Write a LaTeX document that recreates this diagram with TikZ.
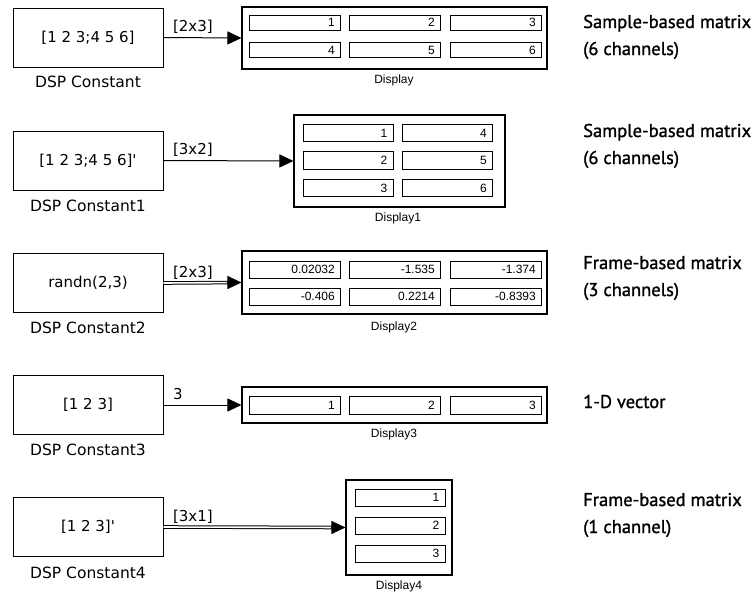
\documentclass[tikz,border=0pt]{standalone}
\usepackage{fontspec}
\newfontfamily\blockfont{DejaVu Sans}
\newfontfamily\cellfont{Liberation Sans}
\newfontfamily\notefont[FakeBold=1.2]{PT Sans}
\usetikzlibrary{arrows.meta}

% one numeric field of a display block: name, centre x, centre y, width, height, value
\newcommand\dispcell[6]{%
  \node[cell, minimum width=#4pt, minimum height=#5pt] (#1) at (#2,#3) {};
  \node[celltext] (#1v) at ([xshift=-6pt]#1.east) {#6};
}

\begin{document}
\begin{tikzpicture}[x=1pt,y=-1pt,
  constblk/.style={draw, line width=1pt, minimum width=150pt, minimum height=59pt,
    inner sep=0pt, font=\blockfont\fontsize{15}{18}\selectfont},
  blkname/.style={inner sep=0pt, font=\blockfont\fontsize{15.5}{18}\selectfont},
  dispbox/.style={draw, line width=1.1pt, inner sep=0pt},
  dispname/.style={inner sep=0pt, font=\cellfont\fontsize{12}{14}\selectfont},
  cell/.style={draw, line width=1pt, inner sep=0pt},
  celltext/.style={anchor=east, inner sep=0pt, font=\cellfont\fontsize{12}{14}\selectfont},
  tip/.style={-{Triangle[length=14pt, width=13pt]}},
  sig/.style={line width=1pt, tip},
  frame/.style={line width=1pt, double, double distance=1.6pt, shorten >=12pt},
  siglabel/.style={pos=0, anchor=base west, inner sep=0pt, xshift=9pt, yshift=6pt,
    font=\blockfont\fontsize{15}{18}\selectfont},
  note/.style={anchor=base west, inner sep=0pt, font=\notefont\fontsize{18.5}{22}\selectfont},
]
\useasboundingbox (0,0) rectangle (755,595);

% ---- source blocks ----
\node[constblk] (c0) at (88,37.5)  {[1 2 3;4 5 6]};
\node[constblk] (c1) at (88,160.5) {[1 2 3;4 5 6]'};
\node[constblk] (c2) at (88,283)   {randn(2,3)};
\node[constblk] (c3) at (88,405)   {[1 2 3]};
\node[constblk] (c4) at (88,527)   {[1 2 3]'};

\node[blkname] (c0n) at (88,82)  {DSP Constant};
\node[blkname] (c1n) at (88,206) {DSP Constant1};
\node[blkname] (c2n) at (88,328) {DSP Constant2};
\node[blkname] (c3n) at (88,450) {DSP Constant3};
\node[blkname] (c4n) at (88,573) {DSP Constant4};

% ---- display blocks ----
\node[dispbox, minimum width=305pt, minimum height=62pt] (d0) at (394.5,38)  {};
\node[dispbox, minimum width=211pt, minimum height=92pt] (d1) at (399.5,161) {};
\node[dispbox, minimum width=305pt, minimum height=63pt] (d2) at (394.5,282.5) {};
\node[dispbox, minimum width=305pt, minimum height=36pt] (d3) at (394.5,405) {};
\node[dispbox, minimum width=106pt, minimum height=95pt] (d4) at (399,527.5) {};

\node[dispname] (d0n) at (394,80)  {Display};
\node[dispname] (d1n) at (398,218) {Display1};
\node[dispname] (d2n) at (394,327) {Display2};
\node[dispname] (d3n) at (394,434) {Display3};
\node[dispname] (d4n) at (399,586) {Display4};

% Display: 2x3
\dispcell{d0a}{295}{22.5}{91}{15}{1}
\dispcell{d0b}{395}{22.5}{91}{15}{2}
\dispcell{d0c}{496}{22.5}{91}{15}{3}
\dispcell{d0d}{295}{50}{91}{15}{4}
\dispcell{d0e}{395}{50}{91}{15}{5}
\dispcell{d0f}{496}{50}{91}{15}{6}

% Display1: 3x2
\dispcell{d1a}{348}{133}{90}{17.5}{1}
\dispcell{d1b}{447.5}{133}{90}{17.5}{4}
\dispcell{d1c}{348}{160.5}{90}{17.5}{2}
\dispcell{d1d}{447.5}{160.5}{90}{17.5}{5}
\dispcell{d1e}{348}{188}{90}{17.5}{3}
\dispcell{d1f}{447.5}{188}{90}{17.5}{6}

% Display2: 2x3 random values
\dispcell{d2a}{295}{269.5}{91}{17}{0.02032}
\dispcell{d2b}{395}{269.5}{91}{17}{-1.535}
\dispcell{d2c}{496}{269.5}{91}{17}{-1.374}
\dispcell{d2d}{295}{296.5}{91}{17}{-0.406}
\dispcell{d2e}{395}{296.5}{91}{17}{0.2214}
\dispcell{d2f}{496}{296.5}{91}{17}{-0.8393}

% Display3: vector
\dispcell{d3a}{295}{405}{91}{18}{1}
\dispcell{d3b}{395}{405}{91}{18}{2}
\dispcell{d3c}{496}{405}{91}{18}{3}

% Display4: column
\dispcell{d4a}{400}{497.5}{90}{17}{1}
\dispcell{d4b}{400}{525.5}{90}{17}{2}
\dispcell{d4c}{400}{553.5}{90}{17}{3}

% ---- signals (frame-based ones are double lines with a solid head) ----
\draw[sig]   (c0.east) -- (d0.west) node[siglabel] (s0) {[2x3]};
\draw[sig]   (c1.east) -- (d1.west) node[siglabel] (s1) {[3x2]};
\draw[frame] (c2.east) -- (d2.west) node[siglabel] (s2) {[2x3]};
\draw[sig]   ([xshift=-14pt]d2.west) -- (d2.west);
\draw[sig]   (c3.east) -- (d3.west) node[siglabel] (s3) {3};
\draw[frame] (c4.east) -- (d4.west) node[siglabel] (s4) {[3x1]};
\draw[sig]   ([xshift=-14pt]d4.west) -- (d4.west);

% ---- annotations ----
\node[note] (n0a) at (583,28)  {Sample-based matrix};
\node[note] (n0b) at (583,55)  {(6 channels)};
\node[note] (n1a) at (583,137) {Sample-based matrix};
\node[note] (n1b) at (583,164) {(6 channels)};
\node[note] (n2a) at (583,269) {Frame-based matrix};
\node[note] (n2b) at (583,296) {(3 channels)};
\node[note] (n3a) at (583,408) {1-D vector};
\node[note] (n4a) at (583,506) {Frame-based matrix};
\node[note] (n4b) at (583,533) {(1 channel)};
\end{tikzpicture}
\end{document}
